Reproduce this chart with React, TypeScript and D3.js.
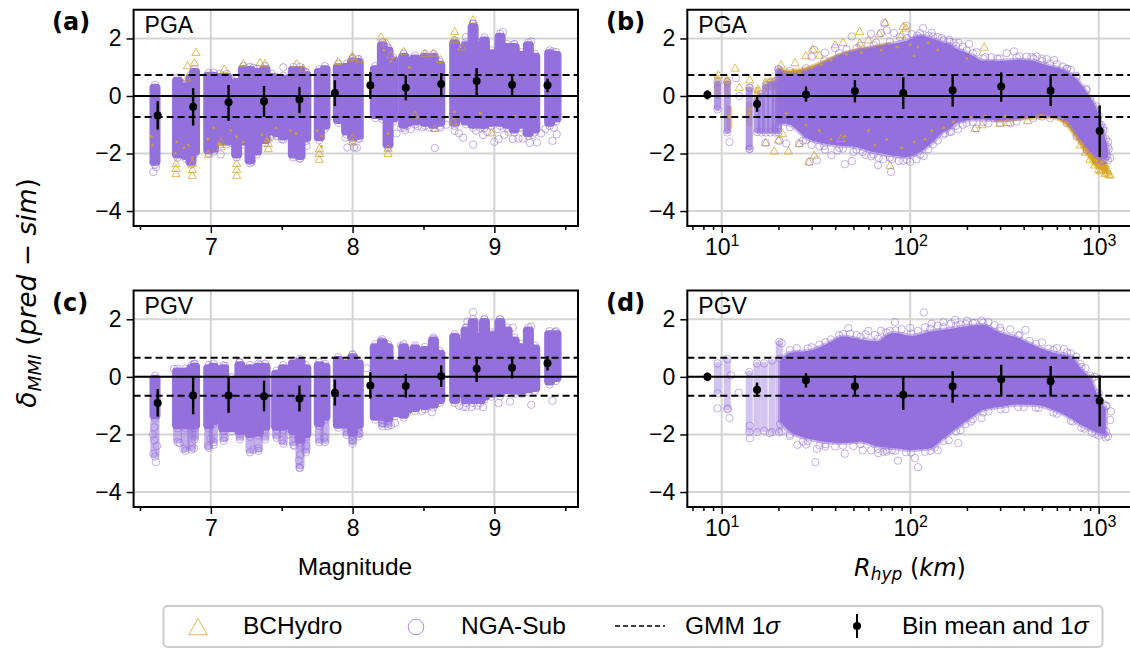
import { useEffect, useRef } from "react";
import * as d3 from "d3";

type Row = number[];

const PURPLE = "#9370db";
const GOLD = "#daa520";

// magnitude bin centres and bin means with 1 sigma range [mean, lo, hi]
const magBins = [6.625, 6.875, 7.125, 7.375, 7.625, 7.875, 8.125, 8.375, 8.625, 8.875, 9.125, 9.375];
const meanA: Row[] = [[-0.68, -1.17, -0.18], [-0.37, -1.03, 0.27], [-0.22, -0.87, 0.38], [-0.18, -0.73, 0.35], [-0.12, -0.6, 0.32], [0.1, -0.35, 0.55], [0.37, -0.1, 0.83], [0.29, -0.15, 0.72], [0.42, 0, 0.8], [0.52, 0, 0.97], [0.39, 0, 0.77], [0.37, 0.13, 0.6]];
const meanC: Row[] = [[-0.91, -1.38, -0.42], [-0.65, -1.3, 0], [-0.65, -1.25, 0], [-0.67, -1.2, -0.13], [-0.75, -1.2, -0.3], [-0.55, -1.0, -0.1], [-0.3, -0.75, 0.17], [-0.32, -0.72, 0.1], [0.02, -0.35, 0.4], [0.28, -0.18, 0.7], [0.32, -0.05, 0.7], [0.47, 0.22, 0.72]];

// distance bin centres
const distBins = [8.4, 15.4, 28, 50.9, 91.9, 168, 304, 556, 1012];
const meanB: Row[] = [[0.04, -0.12, 0.2], [-0.28, -0.55, 0], [0.05, -0.2, 0.33], [0.17, -0.22, 0.55], [0.1, -0.45, 0.65], [0.2, -0.37, 0.73], [0.33, -0.2, 0.82], [0.18, -0.35, 0.72], [-1.22, -2.12, -0.33]];
const meanD: Row[] = [[0, -0.15, 0.15], [-0.45, -0.7, -0.2], [-0.12, -0.37, 0.13], [-0.33, -0.68, 0.05], [-0.62, -1.15, 0], [-0.33, -0.9, 0.2], [-0.08, -0.65, 0.42], [-0.15, -0.67, 0.38], [-0.83, -1.72, 0.05]];

// extent of the dense scatter at each magnitude [M, lo, hi]
const colsA: Row[] = [[6.606, -2.3, 0.3], [6.765, -2.05, 0.55], [6.795, -1.95, 0.35], [6.825, -2.1, 0.35], [6.86, -2.3, 0.65], [6.885, -1.95, 0.85], [6.985, -1.9, 0.72], [7.018, -1.85, 0.72], [7.064, -1.6, 0.68], [7.112, -1.6, 0.68], [7.147, -1.55, 0.45], [7.182, -2.05, 0.5], [7.229, -1.6, 0.95], [7.276, -2.25, 0.92], [7.323, -1.95, 0.85], [7.382, -1.55, 0.95], [7.429, -1.25, 0.68], [7.464, -1.3, 0.57], [7.511, -1.43, 0.62], [7.582, -2.05, 0.92], [7.629, -2.1, 0.92], [7.67, -1.48, 0.75], [7.765, -1.45, 0.85], [7.805, -1.05, 0.95], [7.899, -0.85, 1.02], [7.958, -1.25, 1.03], [8.0, -1.45, 1.22], [8.04, -1.4, 1.2], [8.16, -0.68, 0.95], [8.21, -0.72, 1.78], [8.25, -1.7, 1.6], [8.285, -0.8, 1.25], [8.36, -1.02, 1.38], [8.385, -0.95, 1.25], [8.44, -0.9, 1.32], [8.51, -0.95, 1.38], [8.57, -1.02, 1.38], [8.615, -0.95, 1.1], [8.72, -0.95, 1.85], [8.76, -0.8, 1.55], [8.8, -0.9, 1.78], [8.85, -1.02, 2.42], [8.9, -1.02, 1.78], [8.93, -1.02, 1.95], [8.98, -0.95, 1.5], [9.04, -0.95, 2.08], [9.09, -1.02, 1.72], [9.14, -1.18, 1.72], [9.19, -1.02, 1.44], [9.24, -1.3, 1.78], [9.285, -1.18, 1.38], [9.39, -0.95, 1.5], [9.435, -0.8, 1.44]];
const colsC: Row[] = [[6.606, -1.35, -0.05], [6.765, -1.7, 0.2], [6.82, -1.7, 0.2], [6.865, -1.7, 0.32], [6.885, -1.7, 0.37], [6.985, -1.7, 0.32], [7.018, -1.55, 0.37], [7.09, -1.8, 0.32], [7.147, -1.8, -0.1], [7.205, -1.9, 0.42], [7.276, -2.0, 0.32], [7.335, -1.95, 0.37], [7.382, -1.75, 0.37], [7.464, -1.75, 0.13], [7.511, -1.75, 0.32], [7.582, -1.9, 0.48], [7.629, -2.2, 0.54], [7.67, -2.0, 0.32], [7.765, -1.62, 0.42], [7.805, -1.4, 0.37], [7.899, -1.68, 0.6], [7.958, -1.68, 0.48], [8.0, -1.95, 0.7], [8.04, -1.68, 0.48], [8.16, -1.4, 1.05], [8.21, -1.4, 1.22], [8.25, -1.45, 1.05], [8.3, -1.28, 0.48], [8.36, -1.33, 1.05], [8.385, -1.15, 0.82], [8.44, -1.1, 1.0], [8.51, -1.04, 0.95], [8.57, -0.98, 1.28], [8.615, -0.82, 0.82], [8.72, -0.82, 1.4], [8.76, -0.6, 1.22], [8.8, -0.82, 1.63], [8.85, -0.82, 1.92], [8.9, -0.82, 1.4], [8.93, -0.7, 1.92], [8.98, -0.6, 1.46], [9.04, -0.58, 1.92], [9.09, -0.47, 1.63], [9.14, -0.5, 1.28], [9.19, -0.5, 1.05], [9.24, -0.45, 1.63], [9.285, -0.4, 1.0], [9.39, -0.18, 1.5], [9.435, -0.06, 1.5]];
// paler lower tails of panel (c), where single circles still show
const tailsC: Row[] = [[6.606, -2.7, -1.3], [6.765, -2.2, -1.6], [6.82, -2.5, -1.6], [6.865, -2.45, -1.6], [6.885, -2.1, -1.6], [6.985, -2.4, -1.6], [7.018, -2.2, -1.5], [7.09, -2.15, -1.7], [7.205, -2.1, -1.8], [7.276, -2.55, -1.9], [7.335, -2.5, -1.9], [7.382, -2.1, -1.7], [7.464, -2.05, -1.7], [7.511, -2.25, -1.7], [7.582, -2.3, -1.8], [7.629, -3.1, -2.1], [7.67, -2.55, -1.9], [7.765, -2.2, -1.6], [7.805, -2.2, -1.3], [7.958, -1.95, -1.6], [8.0, -2.25, -1.9], [8.04, -2.0, -1.6], [8.21, -1.65, -1.4], [8.25, -1.65, -1.4]];

// dense scatter envelope against distance [R, lo, hi]
const envB: Row[] = [[20, -0.95, 0.85], [23, -1.0, 0.78], [28, -1.45, 0.88], [35, -1.65, 1.15], [42, -1.72, 1.4], [52, -1.78, 1.58], [64, -1.95, 1.68], [78, -2.05, 1.8], [96, -2.12, 1.92], [113, -1.95, 2.1], [132, -1.6, 1.98], [150, -1.25, 1.85], [162, -1.15, 1.8], [175, -0.95, 1.65], [199, -0.85, 1.5], [215, -0.82, 1.4], [244, -0.82, 1.22], [299, -0.85, 1.22], [367, -0.8, 1.26], [450, -0.68, 1.22], [500, -0.63, 1.12], [552, -0.68, 1.04], [676, -0.86, 0.86], [764, -1.32, 0.58], [863, -1.78, 0.12], [975, -2.12, -0.45], [1056, -2.18, -1.2], [1120, -2.15, -1.85]];
const envD: Row[] = [[20.4, -1.55, 0.55], [23, -1.9, 0.84], [28.6, -2.14, 0.9], [35.5, -2.25, 1.12], [44, -2.3, 1.4], [54.5, -2.25, 1.3], [67.5, -2.42, 1.24], [75, -2.45, 1.45], [83.5, -2.48, 1.52], [101, -2.54, 1.42], [128, -2.48, 1.58], [150, -2.14, 1.64], [175, -1.8, 1.7], [197, -1.55, 1.75], [215, -1.38, 1.78], [244, -1.15, 1.8], [302, -1.04, 1.52], [374, -0.96, 1.35], [464, -0.98, 1.06], [575, -1.15, 0.84], [712, -1.44, 0.72], [810, -1.68, 0.26], [920, -1.85, -0.14], [1000, -1.95, -0.75], [1090, -2.02, -1.1]];

// gold band that sticks out of the purple in panel (b)
const goldLowB: Row[] = [[280, -0.88, -0.75], [400, -0.8, -0.62], [552, -0.76, -0.58], [676, -1.02, -0.8], [764, -1.5, -1.2], [863, -2.02, -1.7], [975, -2.48, -2.0], [1056, -2.6, -2.2], [1120, -2.68, -2.45]];
const goldHighB: Row[] = [[20, 0.7, 0.95], [23, 0.7, 0.88], [28, 0.8, 0.98], [35, 1.05, 1.22], [42, 1.3, 1.45], [52, 1.45, 1.62], [64, 1.55, 1.72], [78, 1.7, 1.84]];

// sparse columns at short distance [R, lo, hi]
const nearB: Row[] = [[9.5, -0.4, 0.42], [10.7, -1.2, 0.42], [14, -1.78, 0.22], [15.4, -1.18, -0.2], [16.2, -1.2, 0], [17.1, -1.2, 0.3], [18.2, -1.2, 0.4], [19.2, -1.2, 0.42], [20, -1.2, 0.85]];
const nearD: Row[] = [[9.5, -0.5, 0.4], [10.7, -1.05, 0.55], [14, -1.85, 0.1], [15.4, -1.85, 0.4], [16.8, -1.8, 0.4], [18.5, -1.85, 0.5], [20.2, -1.85, 1.15]];
const nearGoldB: Row[] = [[9.5, 0, 0.62], [10.7, 0.05, 0.55], [11, -1.05, -0.45], [14, -0.95, -0.3], [15.4, -0.15, 0.2], [17.1, 0.25, 0.5], [18.2, 0.3, 0.55], [19.2, 0.3, 0.55]];

// single circles outside the dense area
const ringsA: Row[] = [[6.594, -2.64], [6.594, -2.29], [6.612, -2.47], [7.069, -2.03], [7.288, -2.29], [7.511, 1.0], [7.624, -2.17], [7.676, -1.74], [7.963, -1.79], [8.01, -1.79], [8.58, -1.81], [8.85, -1.69], [8.78, -1.45], [8.92, -1.36], [9.0, -1.59], [9.03, -1.5], [9.13, -1.5], [9.17, -1.48], [9.2, -1.48], [9.25, -1.63], [9.3, -1.62], [9.41, -1.56], [9.44, -1.33], [8.03, -1.8], [8.05, -1.48], [8.31, -1.3], [8.37, -1.19], [8.49, -1.09], [8.72, -1.21], [9.06, 2.22], [9.26, 1.9], [9.41, 1.55], [8.8, 2.05], [8.85, 2.52], [9.14, 1.8], [7.3, 0.98], [7.67, 0.82], [8.17, 0.95], [8.95, -1.25], [9.1, -1.25], [9.27, -1.35], [9.33, -1.3], [8.62, -1.1], [8.41, -1.15], [8.75, -1.3], [8.87, -1.2], [9.02, -1.15], [9.22, -1.25], [9.07, -1.35], [9.36, -1.15], [9.42, -1.1], [8.54, -1.1], [8.46, -1.05], [8.34, -1.1], [7.43, -1.4], [7.5, -1.5], [7.95, -1.45], [8.66, -1.0]];
const ringsB: Row[] = [[11, -1.6], [12.4, 0], [11.9, 0.62], [14.1, -1.83], [14.1, 0.27], [17.1, -1.63], [20.2, -1.56], [22, -1.65], [25.8, -1.65], [30, -1.7], [35.3, -1.86], [38.2, -2.06], [29.2, -2.29], [32, -2.23], [44, -1.83], [45, -2.37], [49, -2.26], [67.5, -2.41], [79, -2.64], [87, -2.26], [100, -2.29], [35.3, 1.51], [40, 1.66], [30, 1.37], [31, 1.6], [49, 2.07], [62, 2.16], [70, 2.19], [72.9, 2.53], [75, 2.28], [82, 2.19], [95.7, 2.44], [109, 2.1], [117, 2.36], [147, 2.01], [161, 1.95], [205, 1.81], [325, 1.49], [355, 1.55], [415, 1.37], [469, 1.37], [530, 1.28], [645, 1.02], [712, 0.91], [813, 0.21], [1122, -1.59], [1150, -2.15], [224, -1.13], [179, -1.16], [153, -1.3], [118, -2.09], [56, -1.95], [62, -2.1], [72, -2.2], [130, 2.2], [180, 1.85], [270, 1.35], [580, 1.25], [900, -0.1], [950, -0.5], [1030, -1.0], [1090, -1.5],
  [46, 1.62], [55, 1.75], [66, 1.85], [88, 2.05], [102, 2.15], [125, 2.1], [140, 2.05], [170, 1.85], [190, 1.72], [225, 1.52], [250, 1.35], [290, 1.3], [380, 1.38], [440, 1.35], [500, 1.3], [600, 1.1], [680, 0.95], [760, 0.7], [860, 0.25], [1000, -0.7], [1060, -1.2],
  [27, -1.55], [33, -1.75], [41, -1.9], [50, -1.95], [58, -2.05], [68, -2.15], [80, -2.2], [92, -2.25], [108, -2.2], [125, -1.85], [140, -1.55], [165, -1.25], [190, -1.0], [260, -0.95], [340, -0.95], [1080, -2.2], [1110, -2.1], [1130, -1.85], [1040, -2.25]];
const ringsC: Row[] = [[6.612, -2.96], [6.594, -2.67], [6.806, -2.5], [6.88, -2.48], [6.98, -2.4], [7.02, -2.36], [7.624, -3.15], [7.3, -2.53], [7.335, -2.48], [8.0, -2.19], [8.05, -1.96], [8.27, -1.67], [8.21, -1.61], [8.56, -1.23], [8.49, -1.18], [8.78, -1.05], [8.84, -1.05], [8.92, -1.05], [9.03, -0.91], [9.11, -0.86], [9.26, -0.97], [9.41, -0.83], [8.85, 2.25], [8.81, 1.92], [8.8, 1.71], [9.13, 1.71], [8.34, 1.08], [8.2, 1.25], [8.44, 1.02], [8.57, 1.32], [8.72, 1.4], [9.26, 1.75], [9.43, 1.55], [9.4, 1.48], [8.98, 1.48], [8.0, 0.76], [7.2, 0.5], [7.35, 0.42], [6.74, 0.28], [6.88, 0.45], [7.1, 0.38], [9.04, 2.0], [8.93, 2.0], [8.3, -1.6], [8.1, 0.3],
  [6.59, -2.0], [6.6, -2.2], [6.62, -2.4], [6.6, -1.75], [7.63, -2.7], [7.62, -2.9], [7.64, -2.4], [7.59, -2.4], [7.67, -2.4], [7.8, -2.1], [6.78, -2.3], [7.1, -2.1], [7.5, -2.2], [7.55, -2.0], [7.0, -2.15], [8.75, -1.0], [8.8, -1.05], [8.88, -1.0]];
const ringsD: Row[] = [[118, 2.24], [83, 1.9], [47, 1.69], [173, 1.98], [409, 1.63], [655, 0.97], [31.4, -2.96], [110, -3.14], [86, -2.91], [106, -2.82], [45, -2.67], [25.2, -2.36], [14.1, -2.13], [1162, -1.2], [1122, -2.07], [11, -1.43], [9.5, -1.09], [20.8, 1.17], [67.6, -2.65], [239, -1.43], [35.5, -2.42], [14.1, -1.7], [10.8, -1.1], [11.2, 0.05], [12.3, -0.55], [30, 1.03], [38, 1.3], [52, 1.45], [60, 1.6], [70, 1.6], [100, 1.7], [130, 1.85], [150, 1.9], [200, 1.95], [240, 1.95], [280, 1.8], [340, 1.65], [500, 1.2], [600, 1.0], [760, 0.7], [850, 0.3], [950, 0], [1060, -0.95], [1150, -1.5], [32, -2.5], [56, -2.55], [75, -2.6], [140, -2.55], [180, -2.3], [1060, -2.0], [1095, -1.9], [28, -2.35], [20.8, -1.9], [18, -1.95],
  [25, 1.0], [33, 1.12], [42, 1.45], [48, 1.5], [58, 1.48], [65, 1.45], [78, 1.6], [90, 1.65], [110, 1.6], [120, 1.72], [140, 1.78], [165, 1.85], [185, 1.82], [220, 1.88], [260, 1.9], [300, 1.7], [380, 1.45], [430, 1.25], [540, 0.98], [680, 0.85], [800, 0.45], [900, 0.05], [1000, -0.55], [1100, -1.0],
  [23, -2.05], [27, -2.25], [33, -2.38], [40, -2.42], [50, -2.4], [62, -2.55], [72, -2.6], [80, -2.55], [95, -2.62], [120, -2.6], [135, -2.45], [160, -2.2], [185, -1.85], [210, -1.55], [260, -1.2], [320, -1.12], [400, -1.05], [480, -1.08], [600, -1.28], [730, -1.55], [840, -1.8], [960, -1.98]];

// single triangles outside the dense area
const trisA: Row[] = [[6.895, 1.51], [6.884, 1.16], [6.835, 1.05], [6.83, 0.62], [7.095, 0.93], [7.229, 1.12], [7.347, 1.16], [7.382, 1.12], [7.605, 1.12], [7.652, 0.97], [7.899, 1.2], [7.993, 1.34], [6.754, -2.7], [6.754, -2.52], [6.754, -2.35], [6.87, -2.76], [6.87, -2.56], [6.87, -2.35], [7.182, -2.76], [7.182, -2.56], [7.182, -2.35], [6.983, -2.03], [7.07, -1.77], [7.07, -1.6], [7.405, -1.83], [7.405, -1.65], [7.405, -1.48], [7.765, -2.2], [7.765, -2.0], [7.765, -1.83], [8.0, 1.37], [8.05, 1.28], [8.2, 2.05], [8.24, 1.86], [8.27, 1.43], [8.36, 1.55], [8.51, 1.47], [8.57, 1.49], [8.62, 1.26], [8.72, 2.24], [8.72, 1.95], [8.77, 1.7], [8.85, 2.65], [8.25, -2.0], [8.25, -1.83], [8.58, -1.13], [8.71, -0.9], [8.98, -1.28], [8.44, -0.66], [8.0, -1.6], [8.0, -1.45]];
const trisB: Row[] = [[9.6, 0.73], [11.8, 0.97], [12.4, 0.3], [14.1, 0.56], [15.6, 0.24], [10.7, 0.56], [17.1, -1.62], [19, -1.91], [22.6, -1.91], [20, -1.53], [21, -1.3], [20.7, 1.08], [24.5, 1.16], [30.4, 1.63], [40, 1.78], [44, 1.86], [54, 2.24], [54, 1.84], [68.5, 2.16], [91.9, 2.42], [95, 2.36], [73.5, 2.56], [29, -2.29], [31, -2.06], [78, -2.41], [25.8, -1.65], [43, -1.48], [247, 1.7], [90, 2.13], [220, -1.13], [28, 1.4], [33, 1.42], [60, 1.95], [300, -0.95], [330, -0.92], [420, -0.85], [240, -1.0],
  [800, -1.7], [850, -1.95], [900, -2.2], [950, -2.4], [1000, -2.55], [1020, -2.6], [1050, -2.55], [1080, -2.7], [1100, -2.65], [1120, -2.6], [1130, -2.72], [1150, -2.75]];

// gold markers showing through the purple
const specksA: Row[] = [[6.58, -1.4], [6.59, -1.7], [6.75, -2.0], [6.81, -1.8], [6.87, -2.15], [7.02, -1.1], [7.06, -1.65], [7.18, -1.42], [7.23, -1.6], [7.4, -1.5], [7.46, -1.1], [7.56, -1.2], [7.75, -1.2], [7.78, -1.75], [8.25, -1.3], [8.4, 1.0], [8.27, 1.2], [8.22, 1.6], [8.72, -0.55], [8.9, -0.6], [9.14, -0.7], [6.76, -1.6], [6.84, -1.7], [6.98, -1.5], [7.14, -1.2], [7.36, -1.35], [7.6, -1.3], [7.78, -1.4]];
const specksB: Row[] = [[24, 0.9], [26, 0.8], [30, 1.0], [34, 1.1], [38, 1.25], [46, 1.45], [55, 1.5], [70, 1.6], [85, 1.7], [100, 1.8], [110, 1.7], [125, 1.85], [45, -1.4], [60, -1.2], [75, -1.5], [90, -1.8], [105, -1.6], [120, -1.5], [130, -1.2], [150, -1.1], [170, -0.9], [210, -0.75], [250, -0.7], [320, -0.7], [28, -1.0], [33, -1.2], [38, -1.5], [65, -1.7], [14, -0.6], [14.2, -0.45], [11, -0.7], [22, -0.6], [200, 1.3], [105, 1.4], [140, 1.6]];

const xTicksMag = [7, 8, 9];
const xMinorMag = [6.5, 7.5, 8.5, 9.5];
const xTicksDist = [10, 100, 1000];
const xMinorDist = [7, 8, 9, 20, 30, 40, 50, 60, 70, 80, 90, 200, 300, 400, 500, 600, 700, 800, 900];
const yTicks = [2, 0, -2, -4];

const App = () => {
  const svgRef = useRef<SVGSVGElement | null>(null);

  useEffect(() => {
    const svg = d3.select(svgRef.current);
    svg.selectAll("*").remove();
    const sans = "'Liberation Sans', Arial, sans-serif";
    const math = "'DejaVu Sans', sans-serif";

    const triPath = (s: number) => `M0,${-s}L${s * 0.98},${s * 0.72}L${-s * 0.98},${s * 0.72}Z`;

    const drawPanel = (o: any) => {
      const { left, right, top, bottom, x, tag, tagX, label, sigma } = o;
      const y = d3.scaleLinear().domain([3, -4.52]).range([top, bottom]);
      const id = "clip" + tag.replace(/[()]/g, "");
      svg.append("clipPath").attr("id", id).append("rect")
        .attr("x", left).attr("y", top).attr("width", right - left).attr("height", bottom - top);

      const grid = svg.append("g").attr("stroke", "#d4d4d4").attr("stroke-width", 2);
      o.xTicks.forEach((t: number) => {
        grid.append("line").attr("x1", x(t)).attr("x2", x(t)).attr("y1", top).attr("y2", bottom);
      });
      yTicks.forEach((t) => {
        grid.append("line").attr("x1", left).attr("x2", right).attr("y1", y(t)).attr("y2", y(t));
      });

      const g = svg.append("g").attr("clip-path", `url(#${id})`);

      // a column is a round-ended block as wide as the stacked circles
      const columns = (rows: Row[], color: string, opacity: number, w: number) => {
        g.append("g").selectAll("rect").data(rows).join("rect")
          .attr("x", (d) => x(d[0]) - w / 2).attr("width", w)
          .attr("y", (d) => y(d[2]) - 3.5).attr("height", (d) => y(d[1]) - y(d[2]) + 7)
          .attr("rx", 4).attr("fill", color).attr("fill-opacity", opacity);
      };
      const band = (rows: Row[], color: string, edge: number, edgeOpacity: number) => {
        const area = d3.area<Row>().x((d) => x(d[0])).y0((d) => y(d[1])).y1((d) => y(d[2])).curve(d3.curveMonotoneX);
        g.append("path").attr("d", area(rows)).attr("fill", color)
          .attr("stroke", color).attr("stroke-width", edge).attr("stroke-opacity", edgeOpacity)
          .attr("stroke-linejoin", "round");
      };
      // circles sitting on both ends of every row give the scalloped edge
      const endRings = (rows: Row[], bump: number) => {
        const ends = rows.flatMap((d) => [[d[0], y(d[1]) + bump], [d[0], y(d[2]) - bump]]);
        g.append("g").selectAll("circle").data(ends).join("circle")
          .attr("cx", (d) => x(d[0])).attr("cy", (d) => d[1]).attr("r", 3.7)
          .attr("fill", "none").attr("stroke", PURPLE).attr("stroke-opacity", 0.55).attr("stroke-width", 1);
      };

      (o.goldBands || []).forEach((b: Row[]) => band(b, GOLD, 3, 0.5));
      if (o.nearGold) columns(o.nearGold, GOLD, 0.55, 6);
      if (o.tails) columns(o.tails, PURPLE, 0.55, 9);
      if (o.near) columns(o.near, PURPLE, o.nearOpacity, 7);
      if (o.cols) columns(o.cols, PURPLE, 1, 11);
      if (o.env) band(o.env, PURPLE, 4, 0.5);

      g.append("g").selectAll("circle").data(o.specks || []).join("circle")
        .attr("cx", (d: any) => x(d[0])).attr("cy", (d: any) => y(d[1])).attr("r", 1.5)
        .attr("fill", GOLD).attr("fill-opacity", 0.8);

      g.append("g").selectAll("path").data(o.tris || []).join("path")
        .attr("transform", (d: any) => `translate(${x(d[0])},${y(d[1])})`)
        .attr("d", triPath(4.2)).attr("fill", "none")
        .attr("stroke", GOLD).attr("stroke-opacity", 0.75).attr("stroke-width", 1);

      if (o.cols) endRings(o.cols, 2.5);
      if (o.tails) endRings(o.tails, 2);
      if (o.near) endRings(o.near, 2);
      if (o.env) endRings(o.env, 2.5);

      g.append("g").selectAll("circle").data(o.rings || []).join("circle")
        .attr("cx", (d: any) => x(d[0])).attr("cy", (d: any) => y(d[1])).attr("r", 3.7)
        .attr("fill", "none").attr("stroke", PURPLE).attr("stroke-opacity", 0.55).attr("stroke-width", 1);

      // reference lines
      svg.append("line").attr("x1", left).attr("x2", right).attr("y1", y(0)).attr("y2", y(0))
        .attr("stroke", "black").attr("stroke-width", 2);
      [sigma, -sigma].forEach((s) => {
        svg.append("line").attr("x1", left).attr("x2", right).attr("y1", y(s)).attr("y2", y(s))
          .attr("stroke", "black").attr("stroke-width", 2).attr("stroke-dasharray", "7 4");
      });

      // bin means
      const means = svg.append("g");
      o.bins.forEach((b: number, i: number) => {
        const [m, lo, hi] = o.means[i];
        means.append("line").attr("x1", x(b)).attr("x2", x(b)).attr("y1", y(lo)).attr("y2", y(hi))
          .attr("stroke", "black").attr("stroke-width", 2.4);
        means.append("circle").attr("cx", x(b)).attr("cy", y(m)).attr("r", 4).attr("fill", "black");
      });

      // axes
      const yAxis = svg.append("g").attr("transform", `translate(${left},0)`)
        .call(d3.axisLeft(y).tickValues(yTicks).tickSize(7).tickPadding(5)
          .tickFormat((d: any) => String(d).replace("-", "\u2212")));
      const xAxis = svg.append("g").attr("transform", `translate(0,${bottom})`)
        .call(d3.axisBottom(x).tickValues(o.xTicks).tickSize(7).tickPadding(6).tickFormat(o.fmt));
      const xMinor = svg.append("g").attr("transform", `translate(0,${bottom})`)
        .call(d3.axisBottom(x).tickValues(o.xMinor).tickSize(4).tickFormat(() => ""));
      [yAxis, xAxis, xMinor].forEach((a) => {
        a.select(".domain").remove();
        a.selectAll("line").attr("stroke", "black").attr("stroke-width", 1.5);
        a.selectAll("text").attr("font-family", sans).attr("font-size", 23).attr("fill", "black");
      });
      if (o.logAxis) {
        xAxis.selectAll("text").each(function (d: any) {
          const t = d3.select(this);
          t.text("10");
          t.append("tspan").attr("dy", -9).attr("font-size", 16).text(String(Math.round(Math.log10(d))));
        });
      }

      // frame (the right side of the wide panels runs off the page)
      svg.append("path")
        .attr("d", `M${right},${top}H${left}V${bottom}H${right}` + (o.openRight ? "" : "Z"))
        .attr("fill", "none").attr("stroke", "black").attr("stroke-width", 2);

      svg.append("text").attr("x", left + 11).attr("y", top + 23).attr("font-family", sans)
        .attr("font-size", 23).text(label);
      svg.append("text").attr("x", tagX).attr("y", top + 20)
        .attr("font-family", math).attr("font-weight", "bold")
        .attr("font-size", 24).text(tag);
    };

    const magX = d3.scaleLinear().domain([6.455, 9.59]).range([133.6, 578]);
    const distX = d3.scaleLog().domain([6.57, 1466]).range([687.3, 1130]);
    const powFmt = (d: any) => String(d);

    const magCommon = { left: 133.6, right: 578, x: magX, xTicks: xTicksMag, xMinor: xMinorMag, bins: magBins, fmt: powFmt, tagX: 52 };
    const distCommon = { left: 687.3, right: 1130, x: distX, xTicks: xTicksDist, xMinor: xMinorDist, bins: distBins, fmt: powFmt, tagX: 606, logAxis: true, openRight: true };

    drawPanel({ ...magCommon, top: 9.7, bottom: 226, tag: "(a)", label: "PGA", sigma: 0.73, means: meanA, cols: colsA, rings: ringsA, tris: trisA, specks: specksA });
    drawPanel({ ...distCommon, top: 9.7, bottom: 226, tag: "(b)", label: "PGA", sigma: 0.73, means: meanB, env: envB, near: nearB, nearOpacity: 0.72, nearGold: nearGoldB, goldBands: [goldLowB, goldHighB], rings: ringsB, tris: trisB, specks: specksB });
    drawPanel({ ...magCommon, top: 290.5, bottom: 507, tag: "(c)", label: "PGV", sigma: 0.66, means: meanC, cols: colsC, tails: tailsC, rings: ringsC });
    drawPanel({ ...distCommon, top: 290.5, bottom: 507, tag: "(d)", label: "PGV", sigma: 0.66, means: meanD, env: envD, near: nearD, nearOpacity: 0.42, rings: ringsD });

    // axis titles
    svg.append("text").attr("x", 355).attr("y", 575).attr("text-anchor", "middle")
      .attr("font-family", sans).attr("font-size", 24.5).text("Magnitude");
    const rLabel = svg.append("text").attr("x", 910).attr("y", 576).attr("text-anchor", "middle")
      .attr("font-family", math).attr("font-size", 24);
    rLabel.append("tspan").attr("font-style", "italic").text("R");
    rLabel.append("tspan").attr("font-style", "italic").attr("font-size", 17).attr("dy", 4).text("hyp");
    rLabel.append("tspan").attr("dy", -4).text(" (");
    rLabel.append("tspan").attr("font-style", "italic").text("km");
    rLabel.append("tspan").text(")");

    const yLabel = svg.append("text").attr("transform", "translate(36,293) rotate(-90)")
      .attr("text-anchor", "middle").attr("font-family", math).attr("font-size", 26.5);
    yLabel.append("tspan").attr("font-style", "italic").text("\u03b4");
    yLabel.append("tspan").attr("font-style", "italic").attr("font-size", 18.5).attr("dy", 5).text("MMI");
    yLabel.append("tspan").attr("dy", -5).text(" (");
    yLabel.append("tspan").attr("font-style", "italic").text("pred");
    yLabel.append("tspan").text(" \u2212 ");
    yLabel.append("tspan").attr("font-style", "italic").text("sim");
    yLabel.append("tspan").text(")");

    // legend
    const legend = svg.append("g");
    legend.append("rect").attr("x", 163.5).attr("y", 606).attr("width", 939).attr("height", 41).attr("rx", 4)
      .attr("fill", "white").attr("stroke", "#cccccc").attr("stroke-width", 2);
    legend.append("path").attr("transform", "translate(198,628)").attr("d", triPath(9.5))
      .attr("fill", "none").attr("stroke", GOLD).attr("stroke-opacity", 0.8).attr("stroke-width", 1);
    legend.append("circle").attr("cx", 416).attr("cy", 627).attr("r", 7.8)
      .attr("fill", "none").attr("stroke", PURPLE).attr("stroke-opacity", 0.8).attr("stroke-width", 1);
    legend.append("line").attr("x1", 615).attr("x2", 665).attr("y1", 626).attr("y2", 626)
      .attr("stroke", "black").attr("stroke-width", 1.5).attr("stroke-dasharray", "5 3");
    legend.append("line").attr("x1", 857).attr("x2", 857).attr("y1", 614).attr("y2", 638)
      .attr("stroke", "black").attr("stroke-width", 2);
    legend.append("circle").attr("cx", 857).attr("cy", 626).attr("r", 4).attr("fill", "black");
    const legendText = (tx: number, main: string, sig: boolean) => {
      const t = legend.append("text").attr("x", tx).attr("y", 634).attr("font-family", sans).attr("font-size", 24.5).text(main);
      if (sig) t.append("tspan").attr("font-style", "italic").text("\u03c3");
    };
    legendText(243, "BCHydro", false);
    legendText(461, "NGA-Sub", false);
    legendText(685, "GMM 1", true);
    legendText(902, "Bin mean and 1", true);
  }, []);

  return <svg ref={svgRef} width={1130} height={648} style={{ position: "absolute", left: 0, top: 0, background: "white" }} />;
};

export default App;
